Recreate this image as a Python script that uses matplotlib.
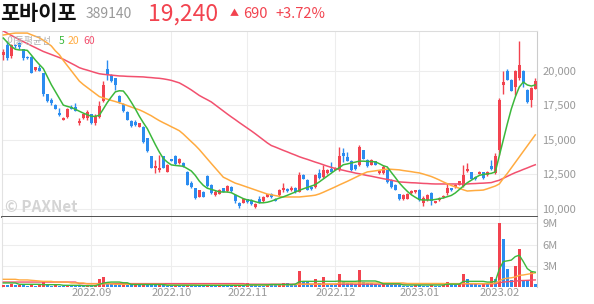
import numpy as np
import matplotlib
matplotlib.use("Agg")
import matplotlib.pyplot as plt

plt.rcParams["font.family"] = ["Noto Sans CJK KR", "DejaVu Sans"]

RED = "#f2434f"
BLUE = "#2b8cf0"
C5, C20, C60 = "#3cb83c", "#ffab40", "#f2506e"

# 일봉 (2022.08.01 ~ 2023.02.14)
opens = [21150, 21850, 21050, 21850, 22000, 21550, 21000, 21000, 20050, 20200,
         19800, 18300, 17850, 17550, 16950, 16450, 16650, 17400, 17400, 16200,
         16550, 16550, 16850, 16200, 16650, 17800, 20150, 19700, 19450, 18150,
         17600, 17000, 16350, 16300, 15950, 15950, 15100, 13800, 12950, 12850,
         13800, 12700, 13600, 13850, 13300, 13300, 12700, 11900, 11500, 10900,
         11250, 12400, 11750, 11000, 11100, 11500, 11300, 11600, 11000, 10450,
         10450, 10700, 10650, 10150, 10750, 10550, 10900, 11100, 10750, 11000,
         11350, 11450, 11350, 11550, 11250, 12450, 12100, 11600, 11600, 12600,
         12300, 12600, 12900, 12850, 12900, 14050, 13750, 13500, 13200, 13200,
         14250, 13550, 13200, 13450, 12600, 12600, 12800, 12100, 11750, 11050,
         10700, 10750, 11150, 11200, 11400, 10450, 10650, 11150, 10450, 10650,
         10850, 11150, 11500, 11600, 11750, 11650, 12750, 12650, 12350, 12550,
         12650, 12450, 13100, 12600, 14250, 18950, 19950, 19300, 18850, 19450,
         20000, 18600, 17900, 18700]
highs = [21600, 22150, 21900, 21900, 22100, 21600, 21050, 21050, 20300, 20400,
         19850, 18350, 18000, 17600, 17300, 16650, 17300, 17550, 17650, 16550,
         16900, 17150, 16900, 16900, 17800, 19250, 20750, 19750, 19500, 18250,
         17700, 17050, 16450, 16450, 16250, 16000, 15150, 13850, 13550, 13900,
         13850, 13250, 13650, 13900, 13700, 13400, 12750, 12000, 11550, 11400,
         11300, 12450, 11800, 11350, 11450, 11550, 11750, 11650, 11050, 10500,
         10800, 10750, 10700, 10400, 10950, 10950, 11100, 11150, 10800, 11450,
         11850, 11500, 11650, 11600, 12700, 12500, 12150, 11650, 12550, 12900,
         13150, 12900, 13400, 13050, 14500, 14400, 14100, 13550, 13250, 14600,
         14300, 13600, 13600, 13500, 12800, 13200, 12850, 12150, 11800, 11100,
         11050, 11150, 11350, 11400, 11450, 10950, 11050, 11200, 10600, 10850,
         11000, 11850, 11550, 11800, 12050, 13200, 13300, 12700, 12400, 12750,
         12700, 12750, 13550, 14050, 18000, 19950, 20100, 19400, 20050, 22150,
         20050, 18700, 18800, 19450]
lows = [20750, 20750, 20950, 21650, 21600, 20800, 20850, 19800, 20000, 19950,
        18200, 17750, 17500, 17200, 16750, 16400, 16600, 17200, 17050, 16050,
        16500, 16450, 16150, 16100, 16600, 17750, 19300, 19200, 18600, 17700,
        17000, 16400, 15950, 16000, 15900, 14800, 14150, 12950, 12600, 12700,
        12950, 12650, 13450, 13200, 13250, 13050, 11700, 11500, 10750, 10850,
        10850, 11600, 11100, 10950, 11050, 11200, 11250, 11250, 10450, 10100,
        10400, 10450, 10300, 10100, 10450, 10500, 10850, 10800, 10550, 10950,
        11250, 11250, 11300, 11150, 11200, 12150, 11350, 11400, 11550, 12150,
        12250, 12550, 12650, 12800, 12750, 13400, 13450, 12750, 12850, 13100,
        13600, 13050, 13150, 13150, 12550, 12550, 11900, 11550, 11350, 10650,
        10650, 10700, 11100, 11150, 10600, 10200, 10600, 10300, 10400, 10600,
        10800, 11000, 11300, 11550, 11700, 11600, 12700, 12150, 12100, 12500,
        12200, 12400, 12850, 12550, 13900, 18350, 19300, 18500, 18250, 19300,
        18850, 17650, 17400, 18650]
closes = [21350, 20900, 21850, 21750, 21700, 20900, 20900, 19850, 20250, 20000,
          18300, 17800, 17650, 17250, 16800, 16600, 17250, 17250, 17100, 16350,
          16850, 17000, 16200, 16750, 17450, 18950, 19700, 19250, 19000, 17750,
          17100, 16450, 16000, 16050, 16200, 14850, 14200, 13000, 13100, 13000,
          13000, 13200, 13500, 13250, 13600, 13100, 11750, 11600, 10800, 11350,
          10900, 11650, 11150, 11250, 11350, 11250, 11650, 11300, 10550, 10200,
          10750, 10500, 10350, 10350, 10500, 10900, 11050, 10850, 10600, 11400,
          11550, 11300, 11550, 11200, 12450, 12200, 11400, 11450, 12450, 12250,
          12850, 12850, 12700, 13000, 13850, 13800, 13500, 12800, 12900, 14500,
          13650, 13100, 13550, 13200, 12750, 13050, 11950, 11600, 11400, 10700,
          11000, 11100, 11300, 11350, 10650, 10800, 11000, 10550, 10550, 10800,
          10950, 11500, 11350, 11750, 12000, 12450, 12900, 12200, 12150, 12700,
          12250, 12700, 12900, 13800, 17850, 19200, 19350, 18550, 19950, 20400,
          19100, 17750, 18750, 19240]

ma5 = [22360, 22050, 21760, 21550, 21500, 21500, 21470, 21130, 20770, 20450,
       20150, 19570, 18990, 18500, 18010, 17510, 17420, 17340, 17210, 17070,
       16930, 16820, 16700, 16700, 16780, 17230, 17700, 18100, 18470, 18550,
       18530, 18170, 17720, 17240, 16710, 16240, 15810, 15230, 14660, 14120,
       13650, 13390, 13190, 13150, 13120, 13090, 12920, 12750, 12430, 12020,
       11710, 11500, 11420, 11330, 11240, 11230, 11230, 11180, 11030, 10890,
       10750, 10660, 10620, 10530, 10450, 10450, 10490, 10570, 10680, 10790,
       10880, 10990, 11110, 11230, 11350, 11460, 11560, 11660, 11760, 11960,
       12170, 12380, 12590, 12800, 12990, 13200, 13260, 13330, 13390, 13460,
       13460, 13440, 13430, 13410, 13280, 13130, 13040, 12650, 12280, 11890,
       11570, 11280, 11030, 10850, 10680, 10650, 10650, 10650, 10690, 10740,
       10800, 10890, 10980, 11160, 11410, 11660, 11900, 12080, 12260, 12430,
       12500, 12540, 12580, 12680, 13830, 14990, 16150, 17230, 18100, 18820,
       19180, 18970, 18890, 18970]
ma20 = [22580, 22630, 22680, 22720, 22720, 22720, 22720, 22600, 22490, 22380,
        22200, 22000, 21790, 21440, 21160, 20740, 20370, 19990, 19620, 19250,
        19000, 18780, 18570, 18350, 18130, 18030, 17940, 17850, 17770, 17680,
        17580, 17480, 17370, 17270, 17170, 17040, 16890, 16740, 16560, 16390,
        16240, 16100, 15950, 15810, 15660, 15420, 15140, 14870, 14600, 14300,
        13960, 13630, 13290, 12960, 12620, 12300, 12160, 12010, 11870, 11780,
        11680, 11580, 11480, 11380, 11280, 11180, 11080, 11030, 10970, 10920,
        10870, 10870, 10870, 10870, 10870, 10900, 10930, 10960, 11000, 11090,
        11210, 11340, 11470, 11600, 11740, 11870, 12000, 12140, 12280, 12420,
        12560, 12680, 12720, 12760, 12800, 12850, 12890, 12870, 12850, 12830,
        12780, 12740, 12700, 12650, 12610, 12530, 12440, 12350, 12230, 12100,
        11960, 11830, 11700, 11600, 11500, 11390, 11300, 11320, 11340, 11350,
        11370, 11460, 11560, 11660, 11810, 12210, 12570, 12970, 13370, 13770,
        14170, 14560, 14960, 15360]
ma60 = [22870, 22710, 22550, 22400, 22250, 22100, 21960, 21810, 21670, 21530,
        21390, 21280, 21170, 21060, 20950, 20830, 20680, 20530, 20380, 20220,
        20120, 20040, 19950, 19860, 19780, 19740, 19710, 19680, 19650, 19620,
        19610, 19590, 19580, 19570, 19560, 19550, 19520, 19500, 19470, 19450,
        19410, 19360, 19300, 19210, 19120, 18960, 18790, 18610, 18410, 18210,
        18050, 17900, 17740, 17520, 17300, 17090, 16870, 16660, 16460, 16250,
        16050, 15850, 15650, 15440, 15220, 15000, 14780, 14590, 14480, 14360,
        14240, 14130, 14010, 13900, 13780, 13680, 13590, 13490, 13390, 13300,
        13200, 13100, 13010, 12930, 12860, 12800, 12730, 12670, 12600, 12550,
        12480, 12420, 12370, 12310, 12250, 12190, 12140, 12080, 12020, 11960,
        11940, 11920, 11900, 11890, 11870, 11850, 11840, 11820, 11810, 11810,
        11810, 11810, 11810, 11810, 11810, 11810, 11810, 11830, 11840, 11860,
        11870, 11890, 11910, 12000, 12080, 12220, 12360, 12500, 12630, 12740,
        12860, 12970, 13090, 13200]

# 거래량 (천 주)
volume = [350, 300, 400, 250, 300, 250, 200, 250, 200, 250,
          700, 350, 200, 250, 200, 200, 250, 200, 200, 150,
          150, 200, 200, 250, 1100, 1400, 600, 400, 350, 300,
          350, 250, 250, 300, 250, 400, 300, 300, 250, 300,
          250, 200, 200, 250, 200, 200, 250, 200, 200, 200,
          200, 250, 200, 150, 200, 200, 150, 150, 200, 250,
          200, 500, 350, 250, 200, 200, 450, 400, 250, 300,
          500, 500, 350, 300, 2300, 700, 700, 400, 1100, 500,
          1450, 450, 400, 400, 1900, 650, 500, 500, 400, 2350,
          650, 500, 500, 450, 300, 500, 400, 350, 300, 250,
          200, 200, 200, 250, 250, 200, 200, 250, 200, 200,
          250, 700, 300, 300, 400, 1800, 1200, 400, 400, 350,
          400, 400, 1400, 1200, 9050, 6850, 2500, 1050, 2900, 5400,
          1050, 1000, 2100, 400]
vma5 = [570] * 4 + [380] * 6 + [330] * 5 + [240] * 5 + [180] * 4 + \
       [380, 550, 650, 700, 700, 700, 600, 600] + [350] * 9 + [260] * 8 + \
       [240] * 12 + [300] * 6 + [350] * 6 + [400, 750] + [800] * 9 + \
       [850, 800, 800, 800, 800, 850, 850, 850, 850, 850, 700] + [450] * 5 + \
       [280] * 11 + [400] * 4 + [800] * 6 + [700, 700, 800] + \
       [2500, 3600, 3700, 3800, 4300, 4500, 3600, 2600, 2200, 2100]
vma20 = [1090] * 4 + [1000] * 3 + [950, 900, 850] + [800] * 3 + [700] * 4 + \
        [570] * 4 + [450] * 7 + [380] * 13 + [260] * 15 + [280] * 11 + \
        [330] * 7 + [400] * 10 + [570] * 17 + [500] * 10 + [480] * 12 + \
        [550, 850, 1150, 1250, 1300, 1420, 1650, 1700, 1800, 1900, 2000]
vma60 = [700] * 19 + [480] * 42 + [400] * 40 + [450] * 22 + \
        [470, 600, 700, 750, 780, 820, 900, 920, 940, 980, 1000]

month_pos = [22, 42, 61, 83, 104, 124]
month_labels = ["2022.09", "2022.10", "2022.11", "2022.12", "2023.01", "2023.02"]
price_ticks = [10000, 12500, 15000, 17500, 20000]
vol_ticks = [3e6, 6e6, 9e6]
vol_labels = ["3M", "6M", "9M"]

o = np.array(opens)
h = np.array(highs)
l = np.array(lows)
c = np.array(closes)
v = np.array(volume) * 1000
x = np.arange(len(o))
cols = np.where(c >= o, RED, BLUE)
# 거래량 막대는 전일 대비 증가(빨강) / 감소(파랑)
vcols = np.where(np.r_[True, v[1:] > v[:-1]], RED, BLUE)

W, H = 594, 304
fig = plt.figure(figsize=(W / 100, H / 100), dpi=100)
ax = fig.add_axes([2 / W, 1 - 217 / H, 535 / W, (217 - 30.7) / H])
axv = fig.add_axes([2 / W, 1 - 287 / H, 535 / W, 70 / H], sharex=ax)

# 가격
ax.vlines(x, l, h, color=cols, lw=1, zorder=3)
body = np.maximum(np.abs(c - o), 40)
ax.bar(x, body, bottom=np.minimum(o, c), width=0.68, color=cols, lw=0, zorder=4)
ax.plot(x, ma60, color=C60, lw=1.1, zorder=5)
ax.plot(x, ma20, color=C20, lw=1.1, zorder=5)
ax.plot(x, ma5, color=C5, lw=1.1, zorder=5)

ax.set_xlim(-0.33, 133.43)
ax.set_ylim(9422, 22892)
ax.yaxis.tick_right()
ax.set_yticks(price_ticks)
ax.set_yticklabels([f"{t:,}" for t in price_ticks])
ax.set_xticks(month_pos)
ax.tick_params(axis="x", length=0, labelbottom=False)
ax.tick_params(axis="y", length=0, pad=4, labelsize=8, labelcolor="#999999")
ax.grid(True, color="#ededed", lw=0.8, zorder=0)
ax.set_axisbelow(True)
for s, col in [("top", "#dcdcdc"), ("right", "#cccccc"), ("left", "#e2e2e2")]:
    ax.spines[s].set_color(col)
    ax.spines[s].set_linewidth(0.8)
ax.spines["bottom"].set_color("#333333")
ax.spines["bottom"].set_linewidth(1.2)

# 거래량
axv.bar(x, v, width=0.75, color=vcols, lw=0, zorder=3)
axv.plot(x, np.array(vma60) * 1000, color=C60, lw=1.0, zorder=4)
axv.plot(x, np.array(vma20) * 1000, color=C20, lw=1.0, zorder=4)
axv.plot(x, np.array(vma5) * 1000, color=C5, lw=1.0, zorder=4)
axv.set_ylim(0, 9.9e6)
axv.yaxis.tick_right()
axv.set_yticks(vol_ticks)
axv.set_yticklabels(vol_labels)
axv.set_xticks(month_pos)
axv.set_xticklabels(month_labels)
axv.tick_params(axis="x", length=0, pad=1, labelsize=8, labelcolor="#999999")
axv.tick_params(axis="y", length=0, pad=4, labelsize=8, labelcolor="#999999")
axv.grid(True, color="#ededed", lw=0.8, zorder=0)
axv.set_axisbelow(True)
axv.spines["top"].set_visible(False)
axv.spines["bottom"].set_visible(False)
axv.spines["right"].set_color("#cccccc")
axv.spines["left"].set_color("#e2e2e2")
for s in ("right", "left"):
    axv.spines[s].set_linewidth(0.8)


def px(xp, yp):
    return xp / W, 1 - yp / H


# 머리글
fig.text(*px(0, 14), "포바이포", fontsize=15, weight="bold", color="#111111", va="center")
fig.text(*px(86, 14), "389140", fontsize=10, color="#999999", va="center")
fig.text(*px(148, 14), "19,240", fontsize=16.5, color=RED, va="center")
fig.text(*px(230, 14), "▲", fontsize=6.5, color=RED, va="center")
fig.text(*px(243, 14), "690", fontsize=10.5, color=RED, va="center")
fig.text(*px(275, 14), "+3.72%", fontsize=10.5, color=RED, va="center")

fig.text(*px(6, 41), "이동평균선", fontsize=7, color="#b0b0b0", va="center")
fig.text(*px(59, 41), "5", fontsize=7.5, color=C5, va="center")
fig.text(*px(68, 41), "20", fontsize=7.5, color=C20, va="center")
fig.text(*px(83, 41), "60", fontsize=7.5, color=C60, va="center")

fig.text(*px(5, 207), "© PAXNet", fontsize=11, weight="bold", color="#d4d4d4", va="center")

fig.savefig("out.png", dpi=100)
